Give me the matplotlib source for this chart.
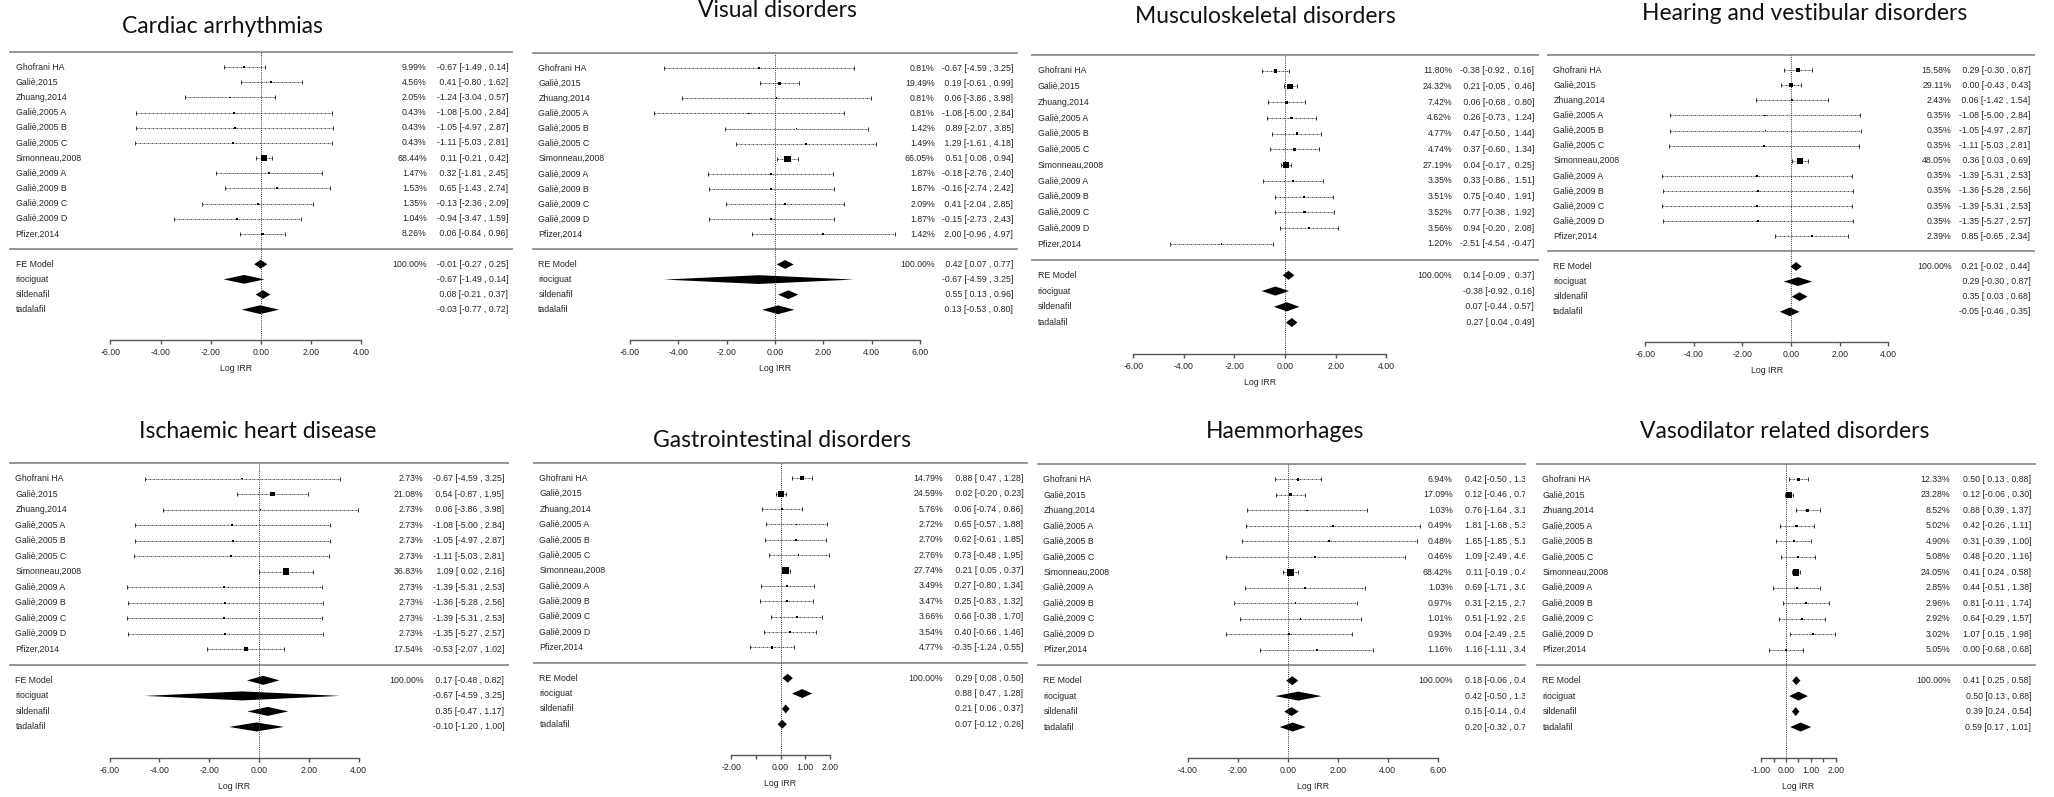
import matplotlib
matplotlib.use('Agg')
import matplotlib.pyplot as plt
from matplotlib.patches import Polygon
import numpy as np

plt.rcParams['font.family'] = ['Liberation Sans', 'DejaVu Sans']

studies = ['Ghofrani HA', 'Galiè,2015', 'Zhuang,2014', 'Galiè,2005 A', 'Galiè,2005 B',
           'Galiè,2005 C', 'Simonneau,2008', 'Galiè,2009 A', 'Galiè,2009 B',
           'Galiè,2009 C', 'Galiè,2009 D', 'Pfizer,2014']
subgroups = ['riociguat', 'sildenafil', 'tadalafil']

# Cardiac arrhythmias
cardiac_est = [-0.67, 0.41, -1.24, -1.08, -1.05, -1.11, 0.11, 0.32, 0.65, -0.13, -0.94, 0.06]
cardiac_lo = [-1.49, -0.80, -3.04, -5.00, -4.97, -5.03, -0.21, -1.81, -1.43, -2.36, -3.47, -0.84]
cardiac_hi = [0.14, 1.62, 0.57, 2.84, 2.87, 2.81, 0.42, 2.45, 2.74, 2.09, 1.59, 0.96]
cardiac_wt = [9.99, 4.56, 2.05, 0.43, 0.43, 0.43, 68.44, 1.47, 1.53, 1.35, 1.04, 8.26]
cardiac_pool = [-0.01, -0.67, 0.08, -0.03]
cardiac_pool_lo = [-0.27, -1.49, -0.21, -0.77]
cardiac_pool_hi = [0.25, 0.14, 0.37, 0.72]

# Visual disorders
visual_est = [-0.67, 0.19, 0.06, -1.08, 0.89, 1.29, 0.51, -0.18, -0.16, 0.41, -0.15, 2.00]
visual_lo = [-4.59, -0.61, -3.86, -5.00, -2.07, -1.61, 0.08, -2.76, -2.74, -2.04, -2.73, -0.96]
visual_hi = [3.25, 0.99, 3.98, 2.84, 3.85, 4.18, 0.94, 2.40, 2.42, 2.85, 2.43, 4.97]
visual_wt = [0.81, 19.49, 0.81, 0.81, 1.42, 1.49, 66.05, 1.87, 1.87, 2.09, 1.87, 1.42]
visual_pool = [0.42, -0.67, 0.55, 0.13]
visual_pool_lo = [0.07, -4.59, 0.13, -0.53]
visual_pool_hi = [0.77, 3.25, 0.96, 0.80]

# Musculoskeletal disorders
musc_est = [-0.38, 0.21, 0.06, 0.26, 0.47, 0.37, 0.04, 0.33, 0.75, 0.77, 0.94, -2.51]
musc_lo = [-0.92, -0.05, -0.68, -0.73, -0.50, -0.60, -0.17, -0.86, -0.40, -0.38, -0.20, -4.54]
musc_hi = [0.16, 0.46, 0.80, 1.24, 1.44, 1.34, 0.25, 1.51, 1.91, 1.92, 2.08, -0.47]
musc_wt = [11.80, 24.32, 7.42, 4.62, 4.77, 4.74, 27.19, 3.35, 3.51, 3.52, 3.56, 1.20]
musc_pool = [0.14, -0.38, 0.07, 0.27]
musc_pool_lo = [-0.09, -0.92, -0.44, 0.04]
musc_pool_hi = [0.37, 0.16, 0.57, 0.49]

# Hearing and vestibular disorders
hear_est = [0.29, 0.00, 0.06, -1.08, -1.05, -1.11, 0.36, -1.39, -1.36, -1.39, -1.35, 0.85]
hear_lo = [-0.30, -0.43, -1.42, -5.00, -4.97, -5.03, 0.03, -5.31, -5.28, -5.31, -5.27, -0.65]
hear_hi = [0.87, 0.43, 1.54, 2.84, 2.87, 2.81, 0.69, 2.53, 2.56, 2.53, 2.57, 2.34]
hear_wt = [15.58, 29.11, 2.43, 0.35, 0.35, 0.35, 48.05, 0.35, 0.35, 0.35, 0.35, 2.39]
hear_pool = [0.21, 0.29, 0.35, -0.05]
hear_pool_lo = [-0.02, -0.30, 0.03, -0.46]
hear_pool_hi = [0.44, 0.87, 0.68, 0.35]

# Ischaemic heart disease
isch_est = [-0.67, 0.54, 0.06, -1.08, -1.05, -1.11, 1.09, -1.39, -1.36, -1.39, -1.35, -0.53]
isch_lo = [-4.59, -0.87, -3.86, -5.00, -4.97, -5.03, 0.02, -5.31, -5.28, -5.31, -5.27, -2.07]
isch_hi = [3.25, 1.95, 3.98, 2.84, 2.87, 2.81, 2.16, 2.53, 2.56, 2.53, 2.57, 1.02]
isch_wt = [2.73, 21.08, 2.73, 2.73, 2.73, 2.73, 36.83, 2.73, 2.73, 2.73, 2.73, 17.54]
isch_pool = [0.17, -0.67, 0.35, -0.10]
isch_pool_lo = [-0.48, -4.59, -0.47, -1.20]
isch_pool_hi = [0.82, 3.25, 1.17, 1.00]

# Gastrointestinal disorders
gi_est = [0.88, 0.02, 0.06, 0.65, 0.62, 0.73, 0.21, 0.27, 0.25, 0.66, 0.40, -0.35]
gi_lo = [0.47, -0.20, -0.74, -0.57, -0.61, -0.48, 0.05, -0.80, -0.83, -0.38, -0.66, -1.24]
gi_hi = [1.28, 0.23, 0.86, 1.88, 1.85, 1.95, 0.37, 1.34, 1.32, 1.70, 1.46, 0.55]
gi_wt = [14.79, 24.59, 5.76, 2.72, 2.70, 2.76, 27.74, 3.49, 3.47, 3.66, 3.54, 4.77]
gi_pool = [0.29, 0.88, 0.21, 0.07]
gi_pool_lo = [0.08, 0.47, 0.06, -0.12]
gi_pool_hi = [0.50, 1.28, 0.37, 0.26]

# Haemmorhages (right column cut off in the source)
haem_est = [0.42, 0.12, 0.76, 1.81, 1.65, 1.09, 0.11, 0.69, 0.31, 0.51, 0.04, 1.16]
haem_lo = [-0.50, -0.46, -1.64, -1.68, -1.85, -2.49, -0.19, -1.71, -2.15, -1.92, -2.49, -1.11]
haem_hi = [1.35, 0.71, 3.16, 5.30, 5.16, 4.68, 0.40, 3.09, 2.78, 2.94, 2.57, 3.42]
haem_wt = [6.94, 17.09, 1.03, 0.49, 0.48, 0.46, 68.42, 1.03, 0.97, 1.01, 0.93, 1.16]
haem_pool = [0.18, 0.42, 0.15, 0.20]
haem_pool_lo = [-0.06, -0.50, -0.14, -0.32]
haem_pool_hi = [0.42, 1.35, 0.44, 0.72]

# Vasodilator related disorders
vaso_est = [0.50, 0.12, 0.88, 0.42, 0.31, 0.48, 0.41, 0.44, 0.81, 0.64, 1.07, 0.00]
vaso_lo = [0.13, -0.06, 0.39, -0.26, -0.39, -0.20, 0.24, -0.51, -0.11, -0.29, 0.15, -0.68]
vaso_hi = [0.88, 0.30, 1.37, 1.11, 1.00, 1.16, 0.58, 1.38, 1.74, 1.57, 1.98, 0.68]
vaso_wt = [12.33, 23.28, 8.52, 5.02, 4.90, 5.08, 24.05, 2.85, 2.96, 2.92, 3.02, 5.05]
vaso_pool = [0.41, 0.50, 0.39, 0.59]
vaso_pool_lo = [0.25, 0.13, 0.24, 0.17]
vaso_pool_hi = [0.58, 0.88, 0.54, 1.01]

ticks_wide = [-6, -4, -2, 0, 2, 4]
ticks_visual = [-6, -4, -2, 0, 2, 4, 6]
ticks_gi = [-2, -1, 0, 1, 2]
labels_gi = ['-2.00', '', '0.00', '1.00', '2.00']
ticks_haem = [-4, -2, 0, 2, 4, 6]
ticks_vaso = [-1, -0.5, 0, 0.5, 1, 1.5, 2]
labels_vaso = ['-1.00', '', '0.00', '', '1.00', '', '2.00']

W, H = 2054, 797
fig = plt.figure(figsize=(W / 100, H / 100), dpi=100)
txt_col = '#262626'
fs = 6.3


def pad(vals):
    s = ['%.2f' % v for v in vals]
    n = max(len(x) for x in s)
    return [x.rjust(n) for x in s]


def ci_strings(e, l, h):
    e, l, h = pad(e), pad(l), pad(h)
    return ['%s [%s , %s]' % (a, b, c) for a, b, c in zip(e, l, h)]


def forest(box, xmax, title, tpos, est, lo, hi, wt, model, pe, pl, ph, ticks, tlabels=None):
    l, t, r, b = box
    ax = fig.add_axes([l / W, 1 - b / H, (r - l) / W, (b - t) / H])
    ax.set_xlim(-10, xmax)
    ax.set_ylim(18, -1)
    for s in ['top', 'left', 'right']:
        ax.spines[s].set_visible(False)
    ax.spines['bottom'].set_bounds(ticks[0], ticks[-1])
    ax.spines['bottom'].set_color('#555555')
    ax.spines['bottom'].set_linewidth(1.0)
    ax.set_yticks([])
    ax.set_xticks(ticks)
    if tlabels is None:
        tlabels = ['%.2f' % v for v in ticks]
    ax.set_xticklabels(tlabels)
    ax.tick_params(axis='x', length=3, width=1.0, color='#555555', pad=3,
                   labelsize=fs, labelcolor=txt_col)
    ax.patch.set_alpha(0)

    ax.axhline(-1, color='#8c8c8c', lw=1.3, clip_on=False)
    ax.axhline(12, color='#8c8c8c', lw=1.3, clip_on=False)
    ax.axvline(0, color='#333333', lw=0.7, ls=(0, (1, 1.2)))

    y = np.arange(len(est))
    ax.hlines(y, lo, hi, color='#333333', lw=0.6, linestyles=(0, (2.2, 1, 0.6, 1)))
    ax.plot(lo, y, ls='none', marker='|', ms=3.5, mew=0.7, color='#333333')
    ax.plot(hi, y, ls='none', marker='|', ms=3.5, mew=0.7, color='#333333')
    w = np.array(wt)
    side = 1.8 + 4.6 * (w - w.min()) / (w.max() - w.min())
    ax.scatter(est, y, marker='s', s=(side * 0.72) ** 2, color='black', lw=0, zorder=3)

    ys = 13 + np.arange(len(pe))
    for e, a, c, yy in zip(pe, pl, ph, ys):
        ax.add_patch(Polygon([(a, yy), (e, yy - 0.29), (c, yy), (e, yy + 0.29)],
                             closed=True, color='black', lw=0))

    names = studies + [model] + subgroups
    for name, yy in zip(names, list(y) + list(ys)):
        ax.text(-9.78, yy, name, ha='left', va='center', fontsize=fs, color=txt_col)
    pct = ['%.2f%%' % v for v in wt] + ['100.00%']
    for p, yy in zip(pct, list(y) + [ys[0]]):
        ax.text(6.6, yy, p, ha='right', va='center', fontsize=fs, color=txt_col)
    ci_main = ci_strings(list(est) + [pe[0]], list(lo) + [pl[0]], list(hi) + [ph[0]])
    ci_sub = ci_strings(pe[1:], pl[1:], ph[1:])
    for c, yy in zip(ci_main + ci_sub, list(y) + list(ys)):
        ax.text(9.85, yy, c, ha='right', va='center', fontsize=fs, color=txt_col, clip_on=True)

    mid = (ticks[0] + ticks[-1]) / 2
    ax.annotate('Log IRR', xy=(mid, 0), xycoords=('data', 'axes fraction'),
                xytext=(0, -17), textcoords='offset points', ha='center', va='top',
                fontsize=fs, color=txt_col)
    fig.text(tpos[0] / W, 1 - tpos[1] / H, title, ha='center', va='baseline',
             fontsize=16.5, family='Lato', color='#111111')


forest((10, 52, 512, 340), 10, 'Cardiac arrhythmias', (222, 33),
       cardiac_est, cardiac_lo, cardiac_hi, cardiac_wt, 'FE Model',
       cardiac_pool, cardiac_pool_lo, cardiac_pool_hi, ticks_wide)
forest((533, 53, 1017, 340), 10, 'Visual disorders', (777, 17),
       visual_est, visual_lo, visual_hi, visual_wt, 'RE Model',
       visual_pool, visual_pool_lo, visual_pool_hi, ticks_visual)
forest((1032, 55, 1538, 354), 10, 'Musculoskeletal disorders', (1265, 23),
       musc_est, musc_lo, musc_hi, musc_wt, 'RE Model',
       musc_pool, musc_pool_lo, musc_pool_hi, ticks_wide)
forest((1548, 55, 2034, 342), 10, 'Hearing and vestibular disorders', (1805, 20),
       hear_est, hear_lo, hear_hi, hear_wt, 'RE Model',
       hear_pool, hear_pool_lo, hear_pool_hi, ticks_wide)
forest((10, 463, 508, 758), 10, 'Ischaemic heart disease', (258, 438),
       isch_est, isch_lo, isch_hi, isch_wt, 'FE Model',
       isch_pool, isch_pool_lo, isch_pool_hi, ticks_wide)
forest((534, 463, 1027, 755), 10, 'Gastrointestinal disorders', (782, 447),
       gi_est, gi_lo, gi_hi, gi_wt, 'RE Model',
       gi_pool, gi_pool_lo, gi_pool_hi, ticks_gi, labels_gi)
forest((1038, 464, 1525, 758), 9.5, 'Haemmorhages', (1285, 438),
       haem_est, haem_lo, haem_hi, haem_wt, 'RE Model',
       haem_pool, haem_pool_lo, haem_pool_hi, ticks_haem)
forest((1537, 464, 2035, 758), 10, 'Vasodilator related disorders', (1785, 438),
       vaso_est, vaso_lo, vaso_hi, vaso_wt, 'RE Model',
       vaso_pool, vaso_pool_lo, vaso_pool_hi, ticks_vaso, labels_vaso)

fig.savefig('out.png', dpi=100, facecolor='white')
